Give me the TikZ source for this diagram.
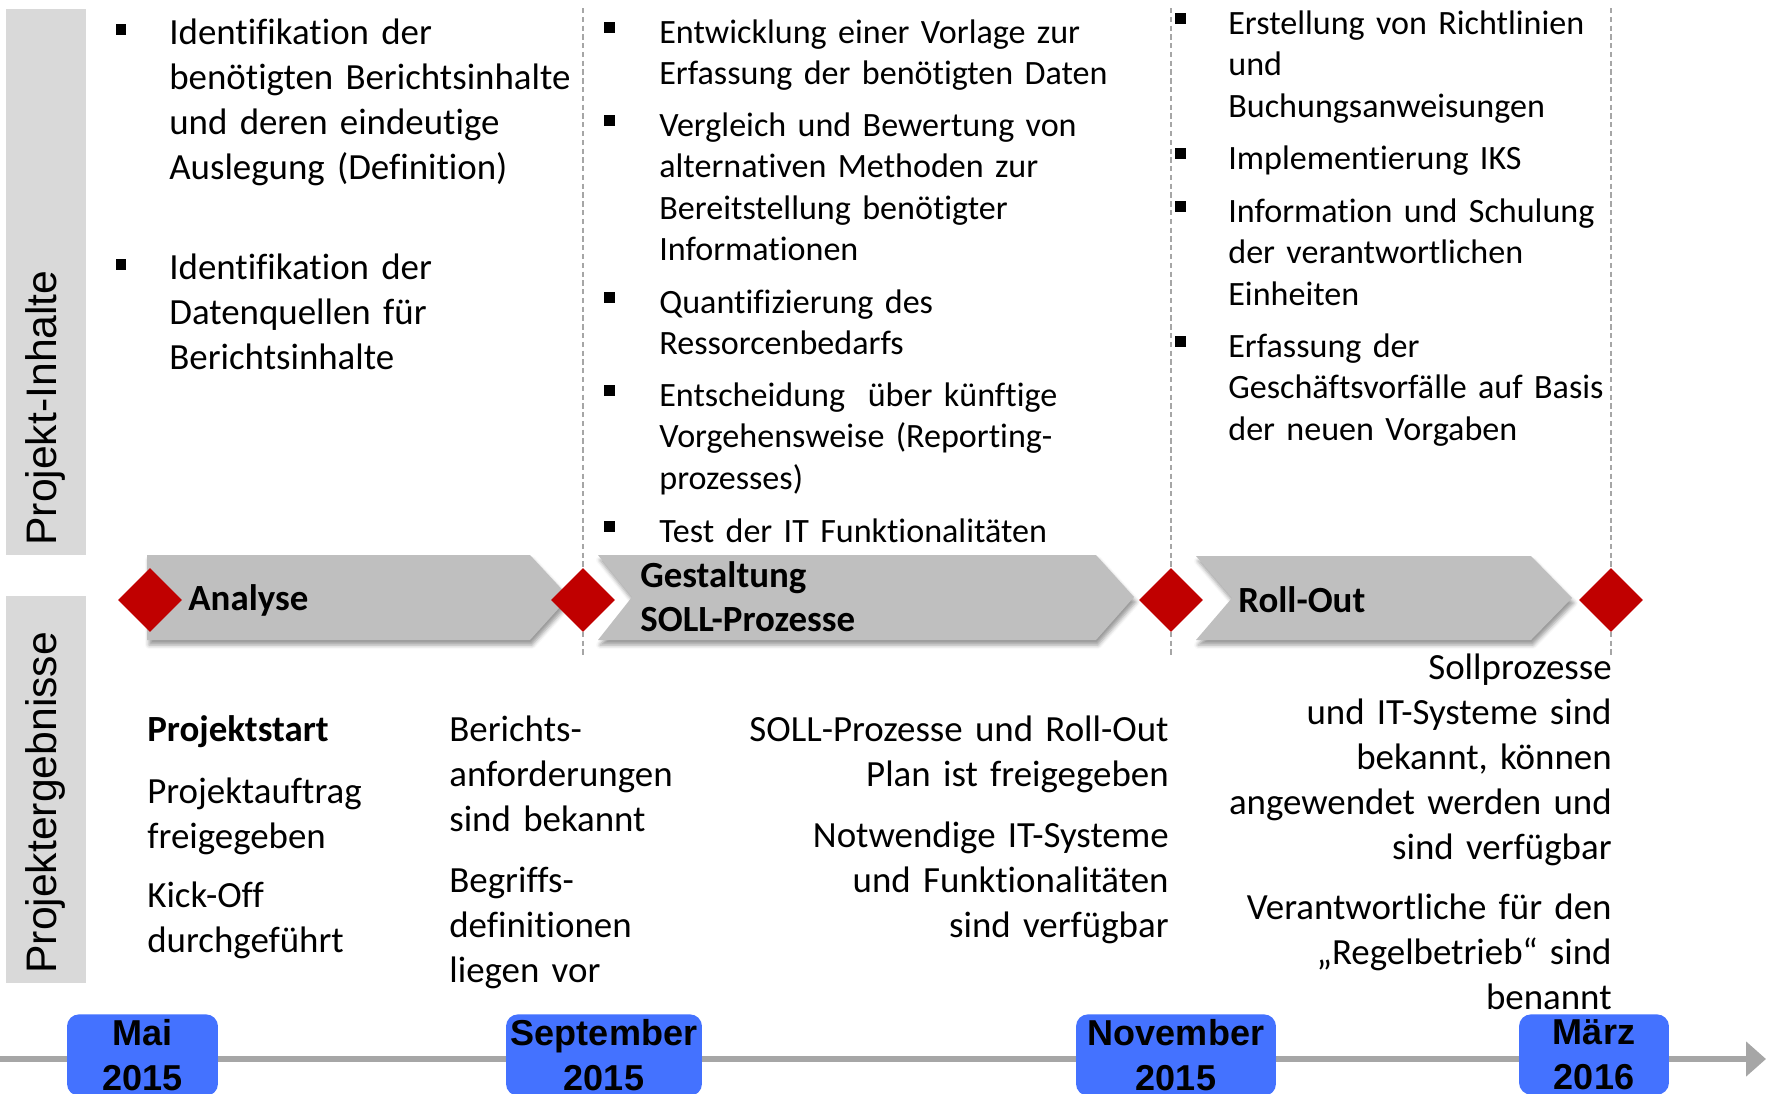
\documentclass[tikz,border=0pt]{standalone}
\usepackage{fontspec}
\setmainfont{Carlito}[Ligatures=NoCommon]
\newfontfamily\arialfont{Liberation Sans}
\usetikzlibrary{arrows.meta,calc,shapes.geometric,shadows.blur}

\definecolor{plgray}{RGB}{217,217,217}
\definecolor{plarrow}{RGB}{191,191,191}
\definecolor{plred}{RGB}{192,0,0}
\definecolor{plline}{RGB}{166,166,166}
\definecolor{plblue}{RGB}{68,114,255}

\newcommand{\txtbig}{\fontsize{21}{25.6}\selectfont}
\newcommand{\txtsmall}{\fontsize{19.4}{23.6}\selectfont}

\begin{document}
\begin{tikzpicture}[
    x=0.02cm, y=-0.02cm,  % one unit = one pixel, y runs downwards
    sidebar/.style={fill=plgray},
    sidelabel/.style={rotate=90, anchor=base west, inner sep=0,
      font=\arialfont\fontsize{24.3}{29}\selectfont},
    phase/.style={fill=plarrow, blur shadow={shadow xshift=0.04cm,
      shadow yshift=-0.1cm, shadow blur radius=0.08cm}},
    phaselabel/.style={anchor=base west, inner sep=0, font=\txtbig\bfseries,
      text width=6cm, align=left},
    milestone/.style={diamond, fill=plred, minimum width=1.28cm,
      minimum height=1.28cm, aspect=1, inner sep=0},
    phasesep/.style={plline, line width=0.6pt, dash pattern=on 3pt off 2pt},
    bigitem/.style={anchor=base west, inner sep=0, font=\txtbig,
      text width=8.6cm, align=left},
    smallitem/.style={anchor=base west, inner sep=0, font=\txtsmall,
      text width=9.2cm, align=left},
    resleft/.style={anchor=base west, inner sep=0, font=\txtbig,
      text width=6cm, align=left},
    resright/.style={anchor=base east, inner sep=0, font=\txtbig,
      text width=9cm, align=right},
    bulletsq/.style={fill=black, minimum size=0.22cm, inner sep=0},
    month/.style={fill=plblue, rounded corners=0.24cm, anchor=north,
      inner xsep=0, inner ysep=0.1cm, align=center,
      font=\arialfont\bfseries\fontsize{20.5}{25.6}\selectfont},
  ]
  \useasboundingbox (0,0) rectangle (1766,1093);
  \clip (0,0) rectangle (1766,1093);

  % --- side bars ---
  \fill[sidebar] (6,9) rectangle (86,555);
  \fill[sidebar] (6,596) rectangle (86,983);
  \node[sidelabel] (v1) at (56,546) {Projekt-Inhalte};
  \node[sidelabel] (v2) at (56,974) {Projektergebnisse};

  % --- phase borders ---
  \foreach \n/\xx in {2/583, 3/1171, 4/1611} {
    \coordinate (st\n) at (\xx,8);
    \coordinate (sb\n) at (\xx,656);
    \draw[phasesep] (st\n) -- (sb\n);
  }

  % --- phase arrows ---
  \fill[phase] (147,555) -- (530,555) -- (569,597) -- (530,640) -- (147,640) -- cycle;
  \fill[phase] (598,555) -- (1096,555) -- (1134,597) -- (1096,640) -- (598,640)
    -- (632,597) -- cycle;
  \fill[phase] (1196,556) -- (1531,556) -- (1572,598) -- (1531,640) -- (1196,640)
    -- (1232,598) -- cycle;
  \node[phaselabel] (p1) at (188,610) {Analyse};
  \node[phaselabel] (p2) at (640,587) {Gestaltung\\SOLL-Prozesse};
  \node[phaselabel] (p3) at (1238,612) {Roll-Out};

  % --- milestones ---
  \foreach \n/\xx in {1/150, 2/583, 3/1171, 4/1611}
    \node[milestone] (m\n) at (\xx,600) {};

  % --- contents, first phase ---
  \foreach \n/\yy/\txt in {
      1/44.5/{Identifikation der\\benötigten Berichtsinhalte\\und deren eindeutige\\Auslegung (Definition)},
      2/279.5/{Identifikation der\\Datenquellen für\\Berichtsinhalte}} {
    \node[bigitem] (a\n) at (169,\yy) {\txt};
    \node[bulletsq] (ab\n) at ($(a\n.base west)+(-48,-15)$) {};
  }

  % --- contents, second phase ---
  \foreach \n/\yy/\txt in {
      1/43.5/{Entwicklung einer Vorlage zur\\Erfassung der benötigten Daten},
      2/136.5/{Vergleich und Bewertung von\\alternativen Methoden zur\\Bereitstellung benötigter\\Informationen},
      3/313.5/{Quantifizierung des\\Ressorcenbedarfs},
      4/406.5/{Entscheidung\ \ über künftige\\Vorgehensweise (Reporting-\\prozesses)},
      5/542.5/{Test der IT Funktionalitäten}} {
    \node[smallitem] (g\n) at (659,\yy) {\txt};
    \node[bulletsq] (gb\n) at ($(g\n.base west)+(-50,-16)$) {};
  }

  % --- contents, third phase ---
  \foreach \n/\yy/\txt in {
      1/34.5/{Erstellung von Richtlinien\\und\\Buchungsanweisungen},
      2/169.5/{Implementierung IKS},
      3/222.5/{Information und Schulung\\der verantwortlichen\\Einheiten},
      4/357.5/{Erfassung der\\Geschäftsvorfälle auf Basis\\der neuen Vorgaben}} {
    \node[smallitem] (r\n) at (1228,\yy) {\txt};
    \node[bulletsq] (rb\n) at ($(r\n.base west)+(-48,-16)$) {};
  }

  % --- results ---
  \node[resleft] (e1) at (147,741.5) {\textbf{Projektstart}};
  \node[resleft] (e2) at (147,803.5) {Projektauftrag\\freigegeben};
  \node[resleft] (e3) at (147,907.5) {Kick-Off\\durchgeführt};
  \node[resleft] (e4) at (449,741.5) {Berichts-\\anforderungen\\sind bekannt};
  \node[resleft] (e5) at (449,892.5) {Begriffs-\\definitionen\\liegen vor};
  \node[resright] (e6) at (1169,741.5) {SOLL-Prozesse und Roll-Out\\Plan ist freigegeben};
  \node[resright] (e7) at (1169,847.5) {Notwendige IT-Systeme\\und Funktionalitäten\\sind verfügbar};
  \node[resright] (e8) at (1612,679.5) {Sollprozesse\\und IT-Systeme sind\\bekannt, können\\angewendet werden und\\sind verfügbar};
  \node[resright] (e9) at (1612,919.5) {Verantwortliche für den\\„Regelbetrieb“ sind\\benannt};

  % --- time line ---
  \coordinate (tl0) at (0,1059);
  \coordinate (tl1) at (1766,1059);
  \draw[plline, line width=0.12cm, -{Triangle[length=0.4cm, width=0.68cm]}] (tl0) -- (tl1);
  \foreach \n/\xx/\ww/\txt in {1/142.5/3.02cm/{Mai\\2015}, 2/604/3.92cm/{September\\2015},
      3/1176/4.0cm/{November\\2015}, 4/1594/3.0cm/{März\\2016}}
    \node[month, text width=\ww] (t\n) at (\xx,1014) {\txt};
\end{tikzpicture}
\end{document}
